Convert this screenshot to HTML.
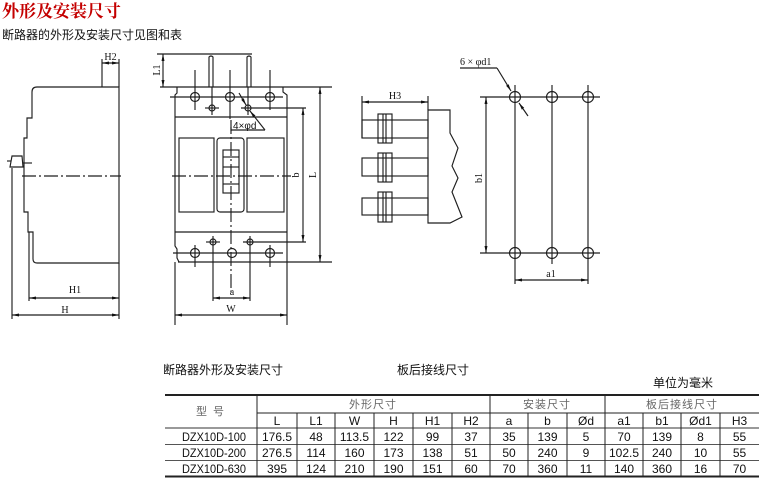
<!DOCTYPE html>
<html><head><meta charset="utf-8">
<style>
html,body{margin:0;padding:0;background:#fff;}
svg{display:block;}
.d{stroke:#1e1e1e;stroke-width:1.15;fill:none;}
.c{stroke:#1e1e1e;stroke-width:1.15;fill:none;stroke-dasharray:14 3 2 3;}
.lab{font-family:"Liberation Serif",serif;font-size:10px;fill:#111;}
.sl{font-family:"Liberation Sans",sans-serif;font-size:10px;fill:#111;}
.t{font-family:"Liberation Sans","Noto Sans CJK SC",sans-serif;font-size:12px;fill:#111;text-anchor:middle;}
.g{font-family:"Liberation Sans","Noto Sans CJK SC",sans-serif;font-size:11px;fill:#666;text-anchor:middle;}
.tb{stroke:#222;stroke-width:1;}
</style></head>
<body>
<svg width="764" height="484" viewBox="0 0 764 484" xmlns="http://www.w3.org/2000/svg">
<defs>
<marker id="a" viewBox="0 0 8 4" refX="8" refY="2" markerWidth="7" markerHeight="3.5" orient="auto-start-reverse" markerUnits="userSpaceOnUse">
<path d="M0,0.3 L8,2 L0,3.7 z" fill="#111"/>
</marker>
</defs>

<!-- Titles -->
<text x="2" y="17" font-family="'Liberation Serif','Noto Serif CJK SC',serif" font-weight="bold" font-size="17" fill="#c40000">外形及安装尺寸</text>
<text x="2" y="39" font-family="'Liberation Sans','Noto Sans CJK SC',sans-serif" font-size="12" fill="#111">断路器的外形及安装尺寸见图和表</text>

<!-- ===== Side view ===== -->
<path class="d" d="M32,92 Q32,87 37,87 L119,87 L119,263 L37,263 Q33,263 33,259 L33,232 L28,232 L28,212 L24,212 L24,138 L27,138 L27,118 L32,118 Z"/>
<line class="d" x1="102" y1="59" x2="102" y2="87"/>
<line class="d" x1="119" y1="59" x2="119" y2="87"/>
<line class="d" x1="102" y1="63" x2="119" y2="63" marker-start="url(#a)" marker-end="url(#a)"/>
<text class="lab" x="110.5" y="60" text-anchor="middle">H2</text>
<!-- handle -->
<path class="d" d="M12,156 L22,156 L23,167 L10,167 Z"/>
<line class="d" x1="23" y1="163" x2="32" y2="163"/>
<line class="d" x1="7" y1="161" x2="11" y2="161"/>
<line class="d" x1="12" y1="168" x2="12" y2="319"/>
<line class="c" x1="22" y1="176" x2="121" y2="176"/>
<!-- H1/H -->
<line class="d" x1="29" y1="232" x2="29" y2="301"/>
<line class="d" x1="119" y1="263" x2="119" y2="319"/>
<line class="d" x1="29" y1="298" x2="119" y2="298" marker-start="url(#a)" marker-end="url(#a)"/>
<text class="lab" x="75" y="293" text-anchor="middle">H1</text>
<line class="d" x1="12" y1="315" x2="119" y2="315" marker-start="url(#a)" marker-end="url(#a)"/>
<text class="lab" x="65" y="313" text-anchor="middle">H</text>

<!-- ===== Front view ===== -->
<line class="d" x1="157" y1="54" x2="252" y2="54"/>
<line class="d" x1="163" y1="54" x2="163" y2="87" marker-start="url(#a)" marker-end="url(#a)"/>
<text class="lab" transform="translate(160,70) rotate(-90)" text-anchor="middle">L1</text>
<path class="d" d="M209,87 L209,57 Q211,55 213,57 L213,87"/>
<path class="d" d="M247,87 L247,57 Q249,55 251,57 L251,87"/>
<line class="d" x1="160" y1="87" x2="332" y2="87"/>
<!-- body outline -->
<path class="d" d="M177,87 L177,93 L175,95 L175,246 L177,249 L177,258 L179,262"/>
<path class="d" d="M283,87 L283,92 L287,95 L287,262"/>
<line class="d" x1="170" y1="97" x2="283" y2="97"/>
<circle class="d" cx="195" cy="97" r="4.5"/>
<circle class="d" cx="230" cy="97" r="4.5"/>
<circle class="d" cx="270" cy="97" r="4.5"/>
<line class="d" x1="195" y1="70" x2="195" y2="110"/>
<line class="d" x1="230" y1="70" x2="230" y2="119"/>
<line class="d" x1="270" y1="70" x2="270" y2="110"/>
<circle class="d" cx="212" cy="108" r="3"/>
<circle class="d" cx="248" cy="108" r="3"/>
<line class="d" x1="205" y1="108" x2="219" y2="108"/>
<line class="d" x1="212" y1="87" x2="212" y2="115"/>
<line class="d" x1="241" y1="108" x2="306" y2="108"/>
<line class="d" x1="248" y1="87" x2="248" y2="115"/>
<line class="d" x1="175" y1="117" x2="287" y2="117"/>
<!-- leader 4xφd -->
<line class="d" x1="239" y1="93" x2="246" y2="105" marker-end="url(#a)"/>
<line class="d" x1="250" y1="111" x2="265" y2="130" marker-start="url(#a)"/>
<line class="d" x1="231" y1="130" x2="265" y2="130"/>
<line class="d" x1="231" y1="127" x2="231" y2="131"/>
<text class="sl" x="233" y="129">4×φd</text>
<!-- windows -->
<rect class="d" x="179" y="138" width="35" height="74"/>
<rect class="d" x="217" y="138" width="27" height="74" rx="3"/>
<rect class="d" x="247" y="138" width="37" height="74"/>
<rect class="d" x="223" y="150" width="16" height="43"/>
<line class="d" x1="223" y1="157" x2="239" y2="157"/>
<line class="d" x1="223" y1="167" x2="239" y2="167"/>
<line class="d" x1="223" y1="184" x2="239" y2="184"/>
<line class="c" x1="231" y1="120" x2="231" y2="292"/>
<line class="c" x1="172" y1="176" x2="291" y2="176"/>
<!-- lower plate -->
<line class="d" x1="175" y1="232" x2="287" y2="232"/>
<circle class="d" cx="213" cy="242" r="3"/>
<circle class="d" cx="250" cy="242" r="3"/>
<line class="d" x1="206" y1="242" x2="220" y2="242"/>
<line class="d" x1="243" y1="242" x2="306" y2="242"/>
<line class="d" x1="173" y1="253" x2="283" y2="253"/>
<circle class="d" cx="195" cy="253" r="4.5"/>
<circle class="d" cx="232" cy="253" r="4.5"/>
<circle class="d" cx="270" cy="253" r="4.5"/>
<line class="d" x1="195" y1="245" x2="195" y2="267"/>
<line class="d" x1="270" y1="245" x2="270" y2="267"/>
<line class="d" x1="178" y1="262" x2="332" y2="262"/>
<!-- a, W -->
<line class="d" x1="213" y1="236" x2="213" y2="301"/>
<line class="d" x1="250" y1="236" x2="250" y2="301"/>
<line class="d" x1="213" y1="298" x2="250" y2="298" marker-start="url(#a)" marker-end="url(#a)"/>
<text class="lab" x="232" y="295" text-anchor="middle">a</text>
<line class="d" x1="175" y1="262" x2="175" y2="325"/>
<line class="d" x1="287" y1="262" x2="287" y2="325"/>
<line class="d" x1="175" y1="315" x2="287" y2="315" marker-start="url(#a)" marker-end="url(#a)"/>
<text class="lab" x="231" y="312" text-anchor="middle">W</text>
<!-- b, L -->
<line class="d" x1="303" y1="108" x2="303" y2="242" marker-start="url(#a)" marker-end="url(#a)"/>
<text class="lab" transform="translate(299,175) rotate(-90)" text-anchor="middle">b</text>
<line class="d" x1="320" y1="87" x2="320" y2="262" marker-start="url(#a)" marker-end="url(#a)"/>
<text class="lab" transform="translate(316,175) rotate(-90)" text-anchor="middle">L</text>

<!-- ===== Back-connection side ===== -->
<line class="d" x1="362" y1="96" x2="362" y2="138"/>
<line class="d" x1="428" y1="96" x2="428" y2="110"/>
<line class="d" x1="362" y1="102" x2="428" y2="102" marker-start="url(#a)" marker-end="url(#a)"/>
<text class="lab" x="395" y="99" text-anchor="middle">H3</text>
<path class="d" d="M428,110 L450,110 L450,133 L458,148 L452,166 L458,178 L452,192 L462,217 L450,223 L428,223 Z"/>
<rect class="d" x="362" y="120" width="66" height="18"/>
<rect class="d" x="362" y="158" width="66" height="18"/>
<rect class="d" x="362" y="198" width="66" height="17"/>
<rect class="d" x="378" y="114" width="14" height="29" fill="#fff"/>
<rect class="d" x="378" y="153" width="14" height="29" fill="#fff"/>
<rect class="d" x="378" y="192" width="14" height="30" fill="#fff"/>
<line class="d" x1="383" y1="114" x2="383" y2="143"/><line class="d" x1="386" y1="114" x2="386" y2="143"/>
<line class="d" x1="383" y1="153" x2="383" y2="182"/><line class="d" x1="386" y1="153" x2="386" y2="182"/>
<line class="d" x1="383" y1="192" x2="383" y2="222"/><line class="d" x1="386" y1="192" x2="386" y2="222"/>

<!-- ===== Hole pattern ===== -->
<line class="d" x1="480" y1="97" x2="600" y2="97"/>
<line class="d" x1="480" y1="253" x2="600" y2="253"/>
<line class="d" x1="515" y1="85" x2="515" y2="284"/>
<line class="d" x1="552" y1="85" x2="552" y2="264"/>
<line class="d" x1="588" y1="85" x2="588" y2="284"/>
<circle class="d" cx="515" cy="97" r="5.5"/>
<circle class="d" cx="552" cy="97" r="5.5"/>
<circle class="d" cx="588" cy="97" r="5.5"/>
<circle class="d" cx="515" cy="253" r="5.5"/>
<circle class="d" cx="552" cy="253" r="5.5"/>
<circle class="d" cx="588" cy="253" r="5.5"/>
<line class="d" x1="486" y1="97" x2="486" y2="253" marker-start="url(#a)" marker-end="url(#a)"/>
<text class="lab" transform="translate(482,178) rotate(-90)" text-anchor="middle">b1</text>
<line class="d" x1="515" y1="280" x2="588" y2="280" marker-start="url(#a)" marker-end="url(#a)"/>
<text class="lab" x="551" y="277" text-anchor="middle">a1</text>
<text class="lab" x="460" y="65">6 × φd1</text>
<line class="d" x1="460" y1="68" x2="497" y2="68"/>
<line class="d" x1="497" y1="68" x2="511" y2="91" marker-end="url(#a)"/>
<line class="d" x1="519" y1="103" x2="528" y2="116" marker-start="url(#a)"/>

<!-- ===== Captions ===== -->
<text x="163" y="374" font-family="'Liberation Sans','Noto Sans CJK SC',sans-serif" font-size="12" fill="#111">断路器外形及安装尺寸</text>
<text x="397" y="374" font-family="'Liberation Sans','Noto Sans CJK SC',sans-serif" font-size="12" fill="#111">板后接线尺寸</text>
<text x="653" y="387" font-family="'Liberation Sans','Noto Sans CJK SC',sans-serif" font-size="12" fill="#111">单位为毫米</text>

<!-- ===== Table ===== -->
<line x1="165" y1="395" x2="759" y2="395" stroke="#222" stroke-width="2"/>
<line x1="165" y1="476.5" x2="759" y2="476.5" stroke="#222" stroke-width="2"/>
<line class="tb" x1="257" y1="413" x2="759" y2="413"/>
<line x1="165" y1="428" x2="759" y2="428" stroke="#333"/>
<line x1="165" y1="444.5" x2="759" y2="444.5" stroke="#555"/>
<line x1="165" y1="460.5" x2="759" y2="460.5" stroke="#555"/>
<line class="tb" x1="257" y1="395" x2="257" y2="476"/>
<line class="tb" x1="490" y1="395" x2="490" y2="476"/>
<line class="tb" x1="605" y1="395" x2="605" y2="476"/>
<g class="tb">
<line x1="297" y1="413" x2="297" y2="476"/>
<line x1="335" y1="413" x2="335" y2="476"/>
<line x1="374" y1="413" x2="374" y2="476"/>
<line x1="413" y1="413" x2="413" y2="476"/>
<line x1="452" y1="413" x2="452" y2="476"/>
<line x1="528" y1="413" x2="528" y2="476"/>
<line x1="567" y1="413" x2="567" y2="476"/>
<line x1="643" y1="413" x2="643" y2="476"/>
<line x1="681" y1="413" x2="681" y2="476"/>
<line x1="720" y1="413" x2="720" y2="476"/>
</g>
<text class="g" x="210" y="415">型&#160;&#160;号</text>
<text class="g" x="373" y="408" letter-spacing="1">外形尺寸</text>
<text class="g" x="547" y="408" letter-spacing="1">安装尺寸</text>
<text class="g" x="682" y="408" letter-spacing="1">板后接线尺寸</text>

<g class="t">
<text x="277" y="425">L</text><text x="316" y="425">L1</text><text x="354.5" y="425">W</text><text x="393.5" y="425">H</text><text x="432.5" y="425">H1</text><text x="471" y="425">H2</text><text x="509" y="425">a</text><text x="547.5" y="425">b</text><text x="586" y="425">Ød</text><text x="624" y="425">a1</text><text x="662" y="425">b1</text><text x="700.5" y="425">Ød1</text><text x="739.5" y="425">H3</text>

<text x="214" y="441" textLength="64" lengthAdjust="spacingAndGlyphs">DZX10D-100</text>
<text x="277" y="441">176.5</text><text x="316" y="441">48</text><text x="354.5" y="441">113.5</text><text x="393.5" y="441">122</text><text x="432.5" y="441">99</text><text x="471" y="441">37</text><text x="509" y="441">35</text><text x="547.5" y="441">139</text><text x="586" y="441">5</text><text x="624" y="441">70</text><text x="662" y="441">139</text><text x="700.5" y="441">8</text><text x="739.5" y="441">55</text>

<text x="214" y="457" textLength="64" lengthAdjust="spacingAndGlyphs">DZX10D-200</text>
<text x="277" y="457">276.5</text><text x="316" y="457">114</text><text x="354.5" y="457">160</text><text x="393.5" y="457">173</text><text x="432.5" y="457">138</text><text x="471" y="457">51</text><text x="509" y="457">50</text><text x="547.5" y="457">240</text><text x="586" y="457">9</text><text x="624" y="457">102.5</text><text x="662" y="457">240</text><text x="700.5" y="457">10</text><text x="739.5" y="457">55</text>

<text x="214" y="473" textLength="64" lengthAdjust="spacingAndGlyphs">DZX10D-630</text>
<text x="277" y="473">395</text><text x="316" y="473">124</text><text x="354.5" y="473">210</text><text x="393.5" y="473">190</text><text x="432.5" y="473">151</text><text x="471" y="473">60</text><text x="509" y="473">70</text><text x="547.5" y="473">360</text><text x="586" y="473">11</text><text x="624" y="473">140</text><text x="662" y="473">360</text><text x="700.5" y="473">16</text><text x="739.5" y="473">70</text>
</g>
</svg>
</body></html>
